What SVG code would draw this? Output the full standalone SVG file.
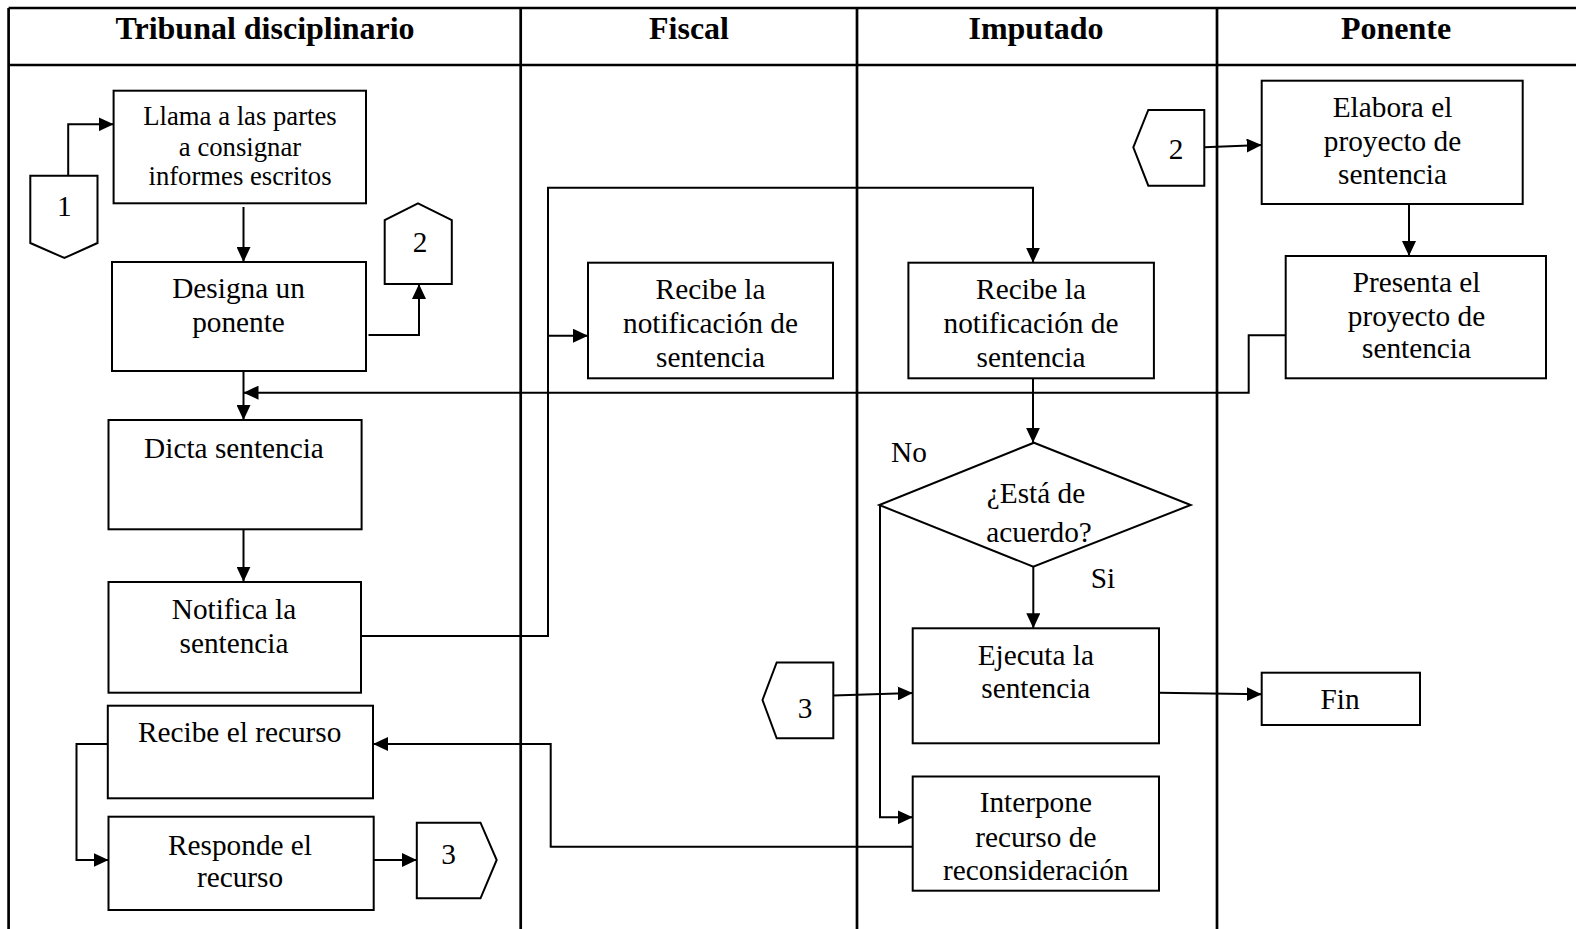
<svg xmlns="http://www.w3.org/2000/svg" width="1576" height="929" viewBox="0 0 1576 929">
<style>
  .grid{stroke:#000;stroke-width:2.7;fill:none}
  .box{fill:#fff;stroke:#000;stroke-width:2}
  .t{font-family:"Liberation Serif","Times New Roman",serif;font-size:29.3px;fill:#000;text-anchor:middle}
  .ts{font-size:26.7px}
  .h{font-family:"Liberation Serif","Times New Roman",serif;font-size:32px;font-weight:bold;fill:#000;text-anchor:middle}
  .c{fill:none;stroke:#000;stroke-width:2}
</style>
<defs>
  <marker id="ah" markerUnits="userSpaceOnUse" markerWidth="16" markerHeight="14" refX="15" refY="7" orient="auto">
    <path d="M0,0 L15,7 L0,14 z" fill="#000"/>
  </marker>
</defs>
<rect width="1576" height="929" fill="#fff"/>
<g id="lanes">
  <line class="grid" x1="8.6" y1="8" x2="1576" y2="8"/>
  <line class="grid" x1="8.6" y1="65" x2="1576" y2="65"/>
  <line class="grid" x1="8.6" y1="8" x2="8.6" y2="929"/>
  <line class="grid" x1="520.7" y1="8" x2="520.7" y2="929"/>
  <line class="grid" x1="857" y1="8" x2="857" y2="929"/>
  <line class="grid" x1="1217" y1="8" x2="1217" y2="929"/>
  <text class="h" x="265" y="39">Tribunal disciplinario</text>
  <text class="h" x="689" y="39">Fiscal</text>
  <text class="h" x="1036" y="39">Imputado</text>
  <text class="h" x="1396" y="39">Ponente</text>
</g>
<g id="connectors">
  <polyline class="c" points="68.2,178 68.2,124.3 113.6,124.3" marker-end="url(#ah)"/>
  <line class="c" x1="243.5" y1="207" x2="243.5" y2="262" marker-end="url(#ah)"/>
  <polyline class="c" points="368.5,335 419,335 419,284" marker-end="url(#ah)"/>
  <line class="c" x1="243.5" y1="371" x2="243.5" y2="420" marker-end="url(#ah)"/>
  <polyline class="c" points="1285.7,335.3 1248.7,335.3 1248.7,392.7 243.5,392.7" marker-end="url(#ah)"/>
  <line class="c" x1="243.5" y1="529.3" x2="243.5" y2="581.7" marker-end="url(#ah)"/>
  <polyline class="c" points="359,636 548,636 548,187.7 1033,187.7 1033,262.7" marker-end="url(#ah)"/>
  <line class="c" x1="548" y1="335.7" x2="588" y2="335.7" marker-end="url(#ah)"/>
  <line class="c" x1="1033" y1="378.3" x2="1033" y2="442.7" marker-end="url(#ah)"/>
  <line class="c" x1="1033.3" y1="566.7" x2="1033.3" y2="628.3" marker-end="url(#ah)"/>
  <polyline class="c" points="880,505 880,817.3 912.7,817.3" marker-end="url(#ah)"/>
  <line class="c" x1="833.3" y1="695.5" x2="912.7" y2="693" marker-end="url(#ah)"/>
  <line class="c" x1="1159" y1="692.7" x2="1261.7" y2="694.3" marker-end="url(#ah)"/>
  <polyline class="c" points="912.7,846.7 550.7,846.7 550.7,744 373,744" marker-end="url(#ah)"/>
  <polyline class="c" points="107.8,744 76.5,744 76.5,860 108.5,860" marker-end="url(#ah)"/>
  <line class="c" x1="373.7" y1="860" x2="416.8" y2="860" marker-end="url(#ah)"/>
  <line class="c" x1="1204.3" y1="147.3" x2="1261.7" y2="145" marker-end="url(#ah)"/>
  <line class="c" x1="1409" y1="204" x2="1409" y2="256" marker-end="url(#ah)"/>
</g>
<g id="n-llama">
  <rect class="box" x="113.6" y="90.7" width="252.4" height="112.6"/>
  <text class="t ts" x="240" y="125">Llama a las partes</text>
  <text class="t ts" x="240" y="156">a consignar</text>
  <text class="t ts" x="240" y="185">informes escritos</text>
</g>
<g id="n-conn1">
  <polygon class="box" points="30.3,175.7 97.5,175.7 97.5,243 64.4,258 30.3,243"/>
  <text class="t" x="64.4" y="216">1</text>
</g>
<g id="n-designa">
  <rect class="box" x="112" y="262" width="254" height="109"/>
  <text class="t" x="238.5" y="298">Designa un</text>
  <text class="t" x="238.5" y="331.5">ponente</text>
</g>
<g id="n-conn2a">
  <polygon class="box" points="418,203.3 451.8,220 451.8,284 384.7,284 384.7,220"/>
  <text class="t" x="420" y="251.7">2</text>
</g>
<g id="n-dicta">
  <rect class="box" x="108.5" y="420" width="253.1" height="109.3"/>
  <text class="t" x="234" y="458.3">Dicta sentencia</text>
</g>
<g id="n-notifica">
  <rect class="box" x="108.5" y="582" width="252.5" height="110.7"/>
  <text class="t" x="234" y="619.3">Notifica la</text>
  <text class="t" x="234" y="652.7">sentencia</text>
</g>
<g id="n-recibe-recurso">
  <rect class="box" x="107.8" y="705.7" width="265.2" height="92.6"/>
  <text class="t" x="239.7" y="742">Recibe el recurso</text>
</g>
<g id="n-responde">
  <rect class="box" x="108.5" y="816.7" width="265.2" height="93.3"/>
  <text class="t" x="240" y="855">Responde el</text>
  <text class="t" x="240" y="886.7">recurso</text>
</g>
<g id="n-conn3a">
  <polygon class="box" points="416.8,822.7 480.5,822.7 496.7,860 480.5,898.3 416.8,898.3"/>
  <text class="t" x="448.5" y="864">3</text>
</g>
<g id="n-fiscal-recibe">
  <rect class="box" x="588" y="262.7" width="245" height="115.6"/>
  <text class="t" x="710.5" y="299.3">Recibe la</text>
  <text class="t" x="710.5" y="333.3">notificación de</text>
  <text class="t" x="710.5" y="366.7">sentencia</text>
</g>
<g id="n-imputado-recibe">
  <rect class="box" x="908.4" y="262.7" width="245.5" height="115.6"/>
  <text class="t" x="1031" y="299.3">Recibe la</text>
  <text class="t" x="1031" y="333.3">notificación de</text>
  <text class="t" x="1031" y="366.7">sentencia</text>
</g>
<g id="n-decision">
  <polygon class="box" points="1034,442.7 1190.7,505 1033.3,566.7 879.3,505"/>
  <text class="t" x="1036" y="503.3">¿Está de</text>
  <text class="t" x="1039" y="541.7">acuerdo?</text>
</g>
<g id="labels">
  <text class="t" x="909" y="461.7">No</text>
  <text class="t" x="1103" y="588.3">Si</text>
</g>
<g id="n-ejecuta">
  <rect class="box" x="912.7" y="628.3" width="246.3" height="115"/>
  <text class="t" x="1035.8" y="665">Ejecuta la</text>
  <text class="t" x="1035.8" y="698.3">sentencia</text>
</g>
<g id="n-interpone">
  <rect class="box" x="912.7" y="776.5" width="246.3" height="114.2"/>
  <text class="t" x="1035.8" y="812.3">Interpone</text>
  <text class="t" x="1035.8" y="846.7">recurso de</text>
  <text class="t" x="1035.8" y="880">reconsideración</text>
</g>
<g id="n-conn3b">
  <polygon class="box" points="762.5,700 776.7,662.5 833.3,662.5 833.3,738.3 776.7,738.3"/>
  <text class="t" x="805" y="718">3</text>
</g>
<g id="n-conn2b">
  <polygon class="box" points="1133.3,147.3 1148.3,110 1204.3,110 1204.3,185.7 1148.3,185.7"/>
  <text class="t" x="1176" y="159">2</text>
</g>
<g id="n-elabora">
  <rect class="box" x="1261.7" y="80.7" width="261" height="123.3"/>
  <text class="t" x="1392.5" y="117.3">Elabora el</text>
  <text class="t" x="1392.5" y="150.7">proyecto de</text>
  <text class="t" x="1392.5" y="184">sentencia</text>
</g>
<g id="n-presenta">
  <rect class="box" x="1285.7" y="256" width="260.3" height="122.3"/>
  <text class="t" x="1416.5" y="291.7">Presenta el</text>
  <text class="t" x="1416.5" y="325.7">proyecto de</text>
  <text class="t" x="1416.5" y="358.3">sentencia</text>
</g>
<g id="n-fin">
  <rect class="box" x="1261.7" y="672.7" width="158.3" height="52.3"/>
  <text class="t" x="1340" y="709">Fin</text>
</g>
</svg>
